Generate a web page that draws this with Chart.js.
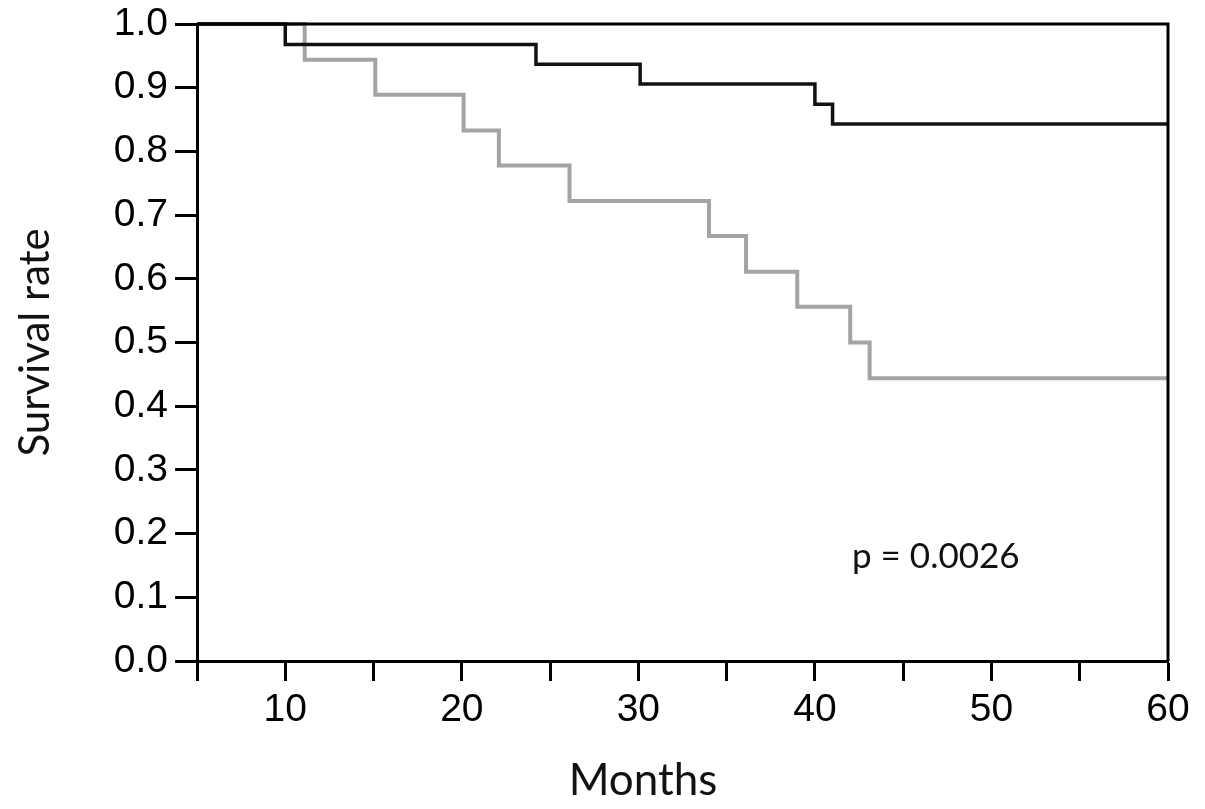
<!DOCTYPE html>
<html>
<head>
<meta charset="utf-8">
<script src="https://cdn.jsdelivr.net/npm/chart.js@4/dist/chart.umd.min.js"></script>
<style>
  body { margin: 0; background: #fff; }
  #wrap { width: 1205px; height: 809px; }
</style>
</head>
<body>
<div id="wrap"><canvas id="chart1"></canvas></div>
<script>
// Data
const blackMonths = [5, 10, 24.2, 30.1, 40, 41, 60];
const blackSurvival = [1.0, 0.968, 0.937, 0.906, 0.874, 0.843, 0.843];
const grayMonths = [5, 11.1, 15.1, 20.1, 22.1, 26.1, 34, 36.1, 39, 42, 43.1, 60];
const graySurvival = [1.0, 0.944, 0.889, 0.833, 0.778, 0.722, 0.667, 0.611, 0.556, 0.5, 0.444, 0.444];
const xTitle = 'Months';
const yTitle = 'Survival rate';
const pLabel = 'p = 0.0026';

function toPoints(xs, ys) {
    return xs.map((x, i) => ({ x: x, y: ys[i] }));
}

const extras = {
    id: 'extras',
    afterDraw(chart) {
        const ctx = chart.ctx;
        const a = chart.chartArea;
        ctx.save();
        // top + right frame
        ctx.strokeStyle = '#000';
        ctx.lineWidth = 3;
        ctx.beginPath();
        ctx.moveTo(a.left, a.top);
        ctx.lineTo(a.right, a.top);
        ctx.lineTo(a.right, a.bottom);
        ctx.stroke();
        // texts
        ctx.fillStyle = '#111';
        ctx.textBaseline = 'alphabetic';
        ctx.textAlign = 'center';
        ctx.font = '44px Lato';
        ctx.fillText(xTitle, 643, 795);
        ctx.textAlign = 'left';
        ctx.font = '35px Lato';
        ctx.fillText(pLabel, 852, 568);
        ctx.restore();
    }
};

new Chart(document.getElementById('chart1'), {
    type: 'line',
    data: {
        datasets: [{
            label: 'black',
            data: toPoints(blackMonths, blackSurvival),
            borderColor: '#111',
            borderWidth: 3.5,
            stepped: 'before',
            pointRadius: 0,
            fill: false,
            clip: false
        }, {
            label: 'gray',
            data: toPoints(grayMonths, graySurvival),
            borderColor: '#a4a4a4',
            borderWidth: 4,
            stepped: 'before',
            pointRadius: 0,
            fill: false,
            clip: false
        }]
    },
    options: {
        responsive: true,
        maintainAspectRatio: false,
        animation: false,
        layout: { padding: { left: 0, top: 24, right: 37, bottom: 0 } },
        plugins: {
            legend: { display: false },
            tooltip: { enabled: false }
        },
        scales: {
            x: {
                type: 'linear',
                min: 5,
                max: 60,
                afterFit(scale) {
                    scale.height = 148;
                    scale.paddingLeft = 0;
                    scale.paddingRight = 0;
                },
                ticks: {
                    stepSize: 5,
                    autoSkip: false,
                    maxRotation: 0,
                    padding: 6,
                    color: '#000',
                    font: { family: 'Liberation Sans', size: 39 },
                    callback: v => (v % 10 === 0 ? v : '')
                },
                grid: {
                    drawOnChartArea: false,
                    tickLength: 20,
                    tickWidth: 3,
                    tickColor: '#000'
                },
                border: { color: '#000', width: 3 }
            },
            y: {
                min: 0,
                max: 1,
                afterFit(scale) {
                    scale.width = 197;
                    scale.paddingTop = 0;
                    scale.paddingBottom = 0;
                },
                ticks: {
                    stepSize: 0.1,
                    padding: 7,
                    color: '#000',
                    font: { family: 'Liberation Sans', size: 39 },
                    callback: v => v.toFixed(1)
                },
                grid: {
                    drawOnChartArea: false,
                    tickLength: 22,
                    tickWidth: 3,
                    tickColor: '#000'
                },
                border: { color: '#000', width: 3 },
                title: {
                    display: true,
                    text: yTitle,
                    color: '#111',
                    font: { family: 'Lato', size: 42 },
                    padding: { top: 10, bottom: 0 }
                }
            }
        }
    },
    plugins: [extras]
});
</script>
</body>
</html>
